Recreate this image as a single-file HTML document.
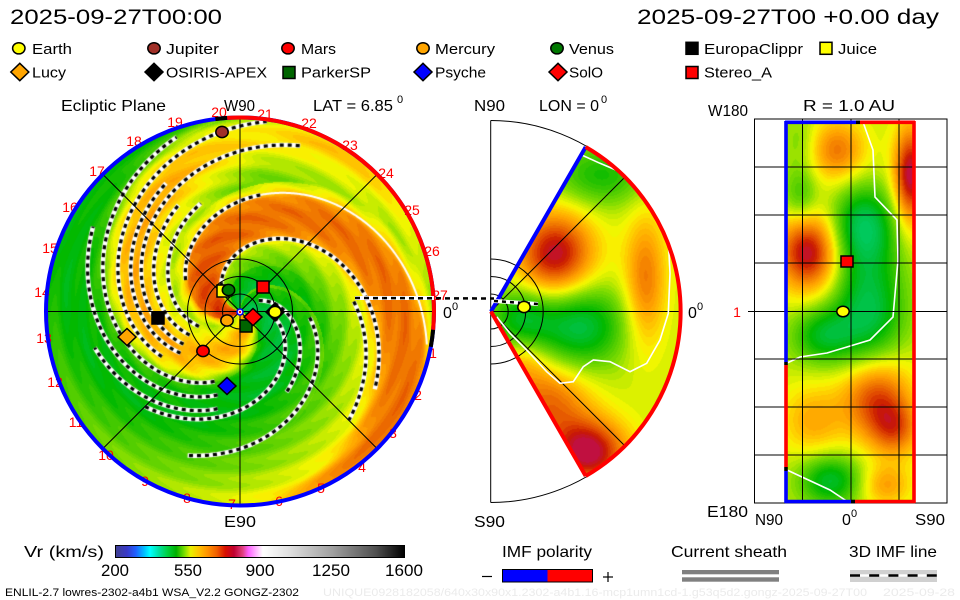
<!DOCTYPE html>
<html><head><meta charset="utf-8">
<style>
html,body{margin:0;padding:0;background:#fff;}
#w{position:relative;width:960px;height:600px;overflow:hidden;background:#fff;}
canvas,svg{position:absolute;left:0;top:0;}
text{font-family:"Liberation Sans",sans-serif;}
</style></head><body><div id="w">
<canvas id="c" width="960" height="600"></canvas>
<svg width="960" height="600" viewBox="0 0 960 600" xmlns="http://www.w3.org/2000/svg">
<defs>
<linearGradient id="cb" x1="0" x2="1" y1="0" y2="0">
<stop offset="0" stop-color="#404090"/><stop offset="0.04" stop-color="#3838c8"/><stop offset="0.07" stop-color="#2060ff"/>
<stop offset="0.10" stop-color="#00c0ff"/><stop offset="0.12" stop-color="#00ffff"/><stop offset="0.15" stop-color="#00e0a0"/>
<stop offset="0.18" stop-color="#00d040"/><stop offset="0.21" stop-color="#00b000"/><stop offset="0.24" stop-color="#80e000"/>
<stop offset="0.26" stop-color="#e8f000"/><stop offset="0.29" stop-color="#ffc000"/><stop offset="0.32" stop-color="#ff9000"/>
<stop offset="0.35" stop-color="#f06000"/><stop offset="0.38" stop-color="#d81000"/><stop offset="0.41" stop-color="#c00030"/>
<stop offset="0.44" stop-color="#e04080"/><stop offset="0.46" stop-color="#ff60ff"/><stop offset="0.49" stop-color="#ffc0ff"/>
<stop offset="0.51" stop-color="#ffffff"/><stop offset="0.60" stop-color="#e0e0e0"/><stop offset="0.75" stop-color="#a0a0a0"/>
<stop offset="0.90" stop-color="#505050"/><stop offset="1" stop-color="#000000"/>
</linearGradient>
</defs>

<text x="10" y="24" font-size="21" textLength="212" lengthAdjust="spacingAndGlyphs">2025-09-27T00:00</text>
<text x="637" y="24" font-size="21" textLength="302" lengthAdjust="spacingAndGlyphs">2025-09-27T00 +0.00 day</text>

<g stroke="#000" stroke-width="1.5">
<ellipse cx="18.8" cy="48.3" rx="6.2" ry="5.6" fill="#ffff00"/>
<ellipse cx="154" cy="48.3" rx="6.2" ry="5.6" fill="#a03028"/>
<ellipse cx="288" cy="48.3" rx="6.2" ry="5.6" fill="#ff0000"/>
<ellipse cx="423" cy="48.3" rx="6.2" ry="5.6" fill="#ffa500"/>
<ellipse cx="557" cy="48.3" rx="6.2" ry="5.6" fill="#007800"/>
<rect x="686" y="42.3" width="12" height="12" fill="#000"/>
<rect x="820" y="42.3" width="12" height="12" fill="#ffff00"/>
<polygon points="10.8,72 19.8,63.3 28.8,72 19.8,80.7" fill="#ffa500"/>
<polygon points="145,72 154,63.3 163,72 154,80.7" fill="#000"/>
<rect x="283" y="66.5" width="12" height="12" fill="#006400"/>
<polygon points="414,72 423,63.3 432,72 423,80.7" fill="#0000ff"/>
<polygon points="549,72 558,63.3 567,72 558,80.7" fill="#ff0000"/>
<rect x="686" y="66.5" width="12" height="12" fill="#ff0000"/>
</g>
<g font-size="15">
<text x="32" y="54" textLength="40" lengthAdjust="spacingAndGlyphs">Earth</text>
<text x="166" y="54" textLength="53" lengthAdjust="spacingAndGlyphs">Jupiter</text>
<text x="301" y="54" textLength="35" lengthAdjust="spacingAndGlyphs">Mars</text>
<text x="435" y="54" textLength="60" lengthAdjust="spacingAndGlyphs">Mercury</text>
<text x="569" y="54" textLength="45" lengthAdjust="spacingAndGlyphs">Venus</text>
<text x="704" y="54" textLength="99" lengthAdjust="spacingAndGlyphs">EuropaClippr</text>
<text x="838" y="54" textLength="39" lengthAdjust="spacingAndGlyphs">Juice</text>
<text x="32" y="77.5" textLength="34" lengthAdjust="spacingAndGlyphs">Lucy</text>
<text x="166" y="77.5" textLength="101" lengthAdjust="spacingAndGlyphs">OSIRIS-APEX</text>
<text x="301" y="77.5" textLength="70" lengthAdjust="spacingAndGlyphs">ParkerSP</text>
<text x="435" y="77.5" textLength="51" lengthAdjust="spacingAndGlyphs">Psyche</text>
<text x="569" y="77.5" textLength="34" lengthAdjust="spacingAndGlyphs">SolO</text>
<text x="704" y="77.5" textLength="68" lengthAdjust="spacingAndGlyphs">Stereo_A</text>
</g>

<g font-size="16">
<text x="61" y="111" textLength="105" lengthAdjust="spacingAndGlyphs">Ecliptic Plane</text>
<text x="224" y="111" textLength="31" lengthAdjust="spacingAndGlyphs">W90</text>
<text x="313" y="111" textLength="80" lengthAdjust="spacingAndGlyphs">LAT = 6.85</text>
<text x="397" y="103" font-size="11">0</text>
<text x="474" y="111" textLength="31" lengthAdjust="spacingAndGlyphs">N90</text>
<text x="539" y="111" textLength="60" lengthAdjust="spacingAndGlyphs">LON = 0</text>
<text x="601" y="103" font-size="11">0</text>
<text x="708" y="116" textLength="40" lengthAdjust="spacingAndGlyphs">W180</text>
<text x="803" y="111" textLength="92" lengthAdjust="spacingAndGlyphs">R = 1.0 AU</text>
<text x="224" y="527" textLength="32" lengthAdjust="spacingAndGlyphs">E90</text>
<text x="474" y="527" textLength="31" lengthAdjust="spacingAndGlyphs">S90</text>
<text x="707" y="517" textLength="41" lengthAdjust="spacingAndGlyphs">E180</text>
<text x="755" y="525" textLength="28" lengthAdjust="spacingAndGlyphs">N90</text>
<text x="842" y="525">0</text><text x="851" y="517" font-size="11">0</text>
<text x="915" y="525" textLength="30" lengthAdjust="spacingAndGlyphs">S90</text>
<text x="443" y="318">0</text><text x="452" y="310" font-size="11">0</text>
<text x="688" y="318">0</text><text x="697" y="310" font-size="11">0</text>
</g>

<g font-size="14" fill="#ff0000" text-anchor="middle">
<text x="219" y="117">20</text><text x="175" y="127">19</text><text x="134" y="146">18</text>
<text x="97" y="176">17</text><text x="70" y="212">16</text><text x="50" y="253">15</text>
<text x="42" y="297">14</text><text x="44" y="343">13</text><text x="55" y="387">12</text>
<text x="76" y="427">11</text><text x="106" y="460">10</text><text x="145" y="486">9</text>
<text x="187" y="503">8</text><text x="232" y="509">7</text><text x="279" y="506">6</text>
<text x="321" y="493">5</text><text x="362" y="472">4</text><text x="393" y="438">3</text>
<text x="418" y="400">2</text><text x="433" y="358">1</text><text x="440" y="300">27</text>
<text x="432" y="256">26</text><text x="412" y="215">25</text><text x="386" y="178">24</text>
<text x="350" y="150">23</text><text x="309" y="128">22</text><text x="265" y="119">21</text>
<text x="737" y="317">1</text>
</g>

<g stroke="#000" stroke-width="1" fill="none">
<line x1="46" y1="311.5" x2="434" y2="311.5"/>
<line x1="240" y1="117" x2="240" y2="506"/>
<line x1="102.5" y1="174" x2="377.5" y2="449"/>
<line x1="377.5" y1="174" x2="102.5" y2="449"/>
<circle cx="240" cy="311.5" r="17.5"/>
<circle cx="240" cy="311.5" r="35"/>
<circle cx="240" cy="311.5" r="52.5"/>
</g>
<circle cx="240" cy="311.5" r="194" fill="none" stroke="#0000ff" stroke-width="4"/>
<path d="M227.1,117.9 A194,194 0 0 1 433.1,329.8" fill="none" stroke="#ff0000" stroke-width="4"/>
<path d="M215.4,119.1 A194,194 0 0 1 227.1,117.9" fill="none" stroke="#000" stroke-width="4"/>
<path d="M433.1,329.8 A194,194 0 0 1 430.8,346.8" fill="none" stroke="#000" stroke-width="4"/>

<line x1="355" y1="298" x2="434" y2="298" stroke="#fff" stroke-width="4"/>
<line x1="355" y1="298" x2="494" y2="298.5" stroke="#000" stroke-width="2.5" stroke-dasharray="5,4"/>

<g stroke="#000" stroke-width="1.5">
<ellipse cx="222" cy="132" rx="6.2" ry="5.6" fill="#a03028"/>
<rect x="217" y="285" width="12" height="12" fill="#ffff00"/>
<ellipse cx="228.5" cy="290" rx="6.2" ry="5.6" fill="#007800"/>
<rect x="257" y="281" width="12" height="12" fill="#ff0000"/>
<polygon points="266,312 275,303 284,312 275,321" fill="#000"/>
<ellipse cx="275" cy="312" rx="6.2" ry="5.6" fill="#ffff00"/>
<rect x="240" y="320" width="12" height="12" fill="#006400"/>
<polygon points="244,317 253,308.5 262,317 253,325.5" fill="#ff0000"/>
<ellipse cx="227" cy="320.5" rx="6.2" ry="5.6" fill="#ffa500"/>
<ellipse cx="203" cy="351" rx="6.2" ry="5.6" fill="#ff0000"/>
<polygon points="218,386 227,377.5 236,386 227,394.5" fill="#0000ff"/>
<polygon points="118,337 127,328.5 136,337 127,345.5" fill="#ffa500"/>
<rect x="152" y="312" width="12" height="12" fill="#000"/>
</g>
<circle cx="240" cy="312" r="3" fill="#fff" stroke="#0000ff" stroke-width="1.5"/>
<circle cx="240" cy="312" r="1.2" fill="#ff0000"/>

<g stroke="#000" stroke-width="1" fill="none">
<line x1="490.7" y1="120.5" x2="490.7" y2="502.5"/>
<path d="M490.7,120.5 A191,191 0 0 1 490.7,502.5"/>
<line x1="490.7" y1="311.5" x2="681" y2="311.5"/>
<line x1="490.7" y1="311.5" x2="625" y2="177"/>
<line x1="490.7" y1="311.5" x2="625" y2="446"/>
<path d="M490.7,294 A17.5,17.5 0 0 1 490.7,329"/>
<path d="M490.7,276.5 A35,35 0 0 1 490.7,346.5"/>
<path d="M490.7,259 A52.5,52.5 0 0 1 490.7,364"/>
</g>
<polyline points="581.7,155 600,163.3 620,171.7 640,186.7 660,210 668.3,240 670,273.3 668.3,313.3 660,340 646.7,363.3 630,371.7 610,361.7 593.3,360 583.3,366.7 573.3,381.7 560,383.3 546.7,371.7 526.7,350 510,333.3 496.7,316.7" fill="none" stroke="#fff" stroke-width="1.6"/>
<line x1="491" y1="311.5" x2="585.7" y2="147" stroke="#0000ff" stroke-width="4"/>
<path d="M585.7,147 A190,190 0 0 1 585.7,476" fill="none" stroke="#ff0000" stroke-width="4"/>
<line x1="491" y1="311.5" x2="585.7" y2="476" stroke="#ff0000" stroke-width="4"/>
<line x1="494" y1="301" x2="538" y2="304" stroke="#fff" stroke-width="4"/>
<line x1="494" y1="301" x2="538" y2="304" stroke="#000" stroke-width="2.5" stroke-dasharray="4,4"/>
<ellipse cx="524" cy="307" rx="6.2" ry="5.6" fill="#ffff00" stroke="#000" stroke-width="1.5"/>

<polyline points="863,122 873,150 875,197 897,220 898,260 893,317 870,340 827,353 800,357 787,363" fill="none" stroke="#fff" stroke-width="1.6"/>
<polyline points="787,470 802,477 830,490 848,502" fill="none" stroke="#fff" stroke-width="1.6"/>
<g stroke="#000" stroke-width="1" fill="none">
<rect x="754.5" y="119" width="192.5" height="384"/>
<line x1="802.5" y1="119" x2="802.5" y2="503"/>
<line x1="851" y1="119" x2="851" y2="503"/>
<line x1="899" y1="119" x2="899" y2="503"/>
<line x1="754.5" y1="167" x2="947" y2="167"/>
<line x1="754.5" y1="215" x2="947" y2="215"/>
<line x1="754.5" y1="263" x2="947" y2="263"/>
<line x1="748" y1="311.5" x2="947" y2="311.5"/>
<line x1="754.5" y1="359" x2="947" y2="359"/>
<line x1="754.5" y1="407" x2="947" y2="407"/>
<line x1="754.5" y1="455" x2="947" y2="455"/>
</g>
<g stroke-width="3.6">
<line x1="786" y1="121" x2="786" y2="362" stroke="#0000ff"/>
<line x1="786" y1="362" x2="786" y2="365" stroke="#000"/>
<line x1="786" y1="365" x2="786" y2="467" stroke="#ff0000"/>
<line x1="786" y1="467" x2="786" y2="471" stroke="#000"/>
<line x1="786" y1="471" x2="786" y2="503" stroke="#0000ff"/>
<line x1="914" y1="121" x2="914" y2="503" stroke="#ff0000"/>
<line x1="785" y1="122.3" x2="856" y2="122.3" stroke="#0000ff"/>
<line x1="856" y1="122.3" x2="860" y2="122.3" stroke="#000"/>
<line x1="860" y1="122.3" x2="915" y2="122.3" stroke="#ff0000"/>
<line x1="785" y1="501.5" x2="851" y2="501.5" stroke="#0000ff"/>
<line x1="851" y1="501.5" x2="855" y2="501.5" stroke="#000"/>
<line x1="855" y1="501.5" x2="915" y2="501.5" stroke="#ff0000"/>
</g>
<rect x="841" y="256" width="12" height="11" fill="#ff0000" stroke="#000" stroke-width="1.5"/>
<ellipse cx="843" cy="311.5" rx="6.2" ry="5.3" fill="#ffff00" stroke="#000" stroke-width="1.5"/>

<text x="24" y="557" font-size="16" textLength="80" lengthAdjust="spacingAndGlyphs">Vr (km/s)</text>
<rect x="115.5" y="545.5" width="289" height="12" fill="url(#cb)" stroke="#000" stroke-width="1"/>
<g font-size="17" text-anchor="middle">
<text x="115" y="576" textLength="28" lengthAdjust="spacingAndGlyphs">200</text>
<text x="188" y="576" textLength="28" lengthAdjust="spacingAndGlyphs">550</text>
<text x="260" y="576" textLength="29" lengthAdjust="spacingAndGlyphs">900</text>
<text x="331" y="576" textLength="38" lengthAdjust="spacingAndGlyphs">1250</text>
<text x="404" y="576" textLength="38" lengthAdjust="spacingAndGlyphs">1600</text>
</g>

<text x="502" y="557" font-size="16" textLength="90" lengthAdjust="spacingAndGlyphs">IMF polarity</text>
<rect x="502.5" y="569.5" width="45" height="12.5" fill="#0000ff"/>
<rect x="547.5" y="569.5" width="45" height="12.5" fill="#ff0000"/>
<rect x="502.5" y="569.5" width="90" height="12.5" fill="none" stroke="#000" stroke-width="1"/>
<line x1="482" y1="576.5" x2="492" y2="576.5" stroke="#000" stroke-width="1.2"/>
<line x1="603" y1="577" x2="613" y2="577" stroke="#000" stroke-width="1.2"/>
<line x1="608" y1="572" x2="608" y2="582" stroke="#000" stroke-width="1.2"/>

<text x="671" y="557" font-size="16" textLength="116" lengthAdjust="spacingAndGlyphs">Current sheath</text>
<rect x="682" y="570" width="97" height="4.3" fill="#808080"/>
<rect x="682" y="577.3" width="97" height="4.4" fill="#808080"/>

<text x="849" y="557" font-size="16" textLength="88" lengthAdjust="spacingAndGlyphs">3D IMF line</text>
<rect x="850" y="570" width="87" height="12" fill="#d0d0d0"/>
<rect x="850" y="574.3" width="87" height="2.4" fill="#fff"/>
<line x1="850" y1="575.5" x2="937" y2="575.5" stroke="#000" stroke-width="2.4" stroke-dasharray="10,9.2"/>

<text x="5" y="596" font-size="11" textLength="294" lengthAdjust="spacingAndGlyphs">ENLIL-2.7 lowres-2302-a4b1 WSA_V2.2 GONGZ-2302</text>
<text x="323" y="596" font-size="11" fill="#ebebeb" textLength="544" lengthAdjust="spacingAndGlyphs">UNIQUE0928182058/640x30x90x1.2302-a4b1.16-mcp1umn1cd-1.g53q5d2.gongz-2025-09-27T00</text>
<text x="883" y="596" font-size="11" fill="#ebebeb" textLength="72" lengthAdjust="spacingAndGlyphs">2025-09-28</text>
</svg>
</div>
<script>
(function(){
var c=document.getElementById('c'),g=c.getContext('2d');
var W=960,H=600;
var im=g.createImageData(W,H),d=im.data;
var S=[[0,0,208,112],[0.12,0,192,64],[0.22,0,184,0],[0.32,64,200,0],[0.42,128,220,0],[0.5,200,236,0],[0.56,248,248,0],[0.64,255,200,0],[0.72,255,160,0],[0.8,240,120,0],[0.88,224,72,0],[0.94,200,24,0],[1,192,16,64]];
function cm(t){t=Math.max(0,Math.min(1,t));t=Math.round(t*40)/40;
 for(var i=1;i<S.length;i++){if(t<=S[i][0]){var a=S[i-1],b=S[i],f=(t-a[0])/(b[0]-a[0]);return [a[1]+(b[1]-a[1])*f,a[2]+(b[2]-a[2])*f,a[3]+(b[3]-a[3])*f];}}
 return [192,16,64];}
function put(x,y,t){var k=(y*W+x)*4,v=cm(t);d[k]=v[0];d[k+1]=v[1];d[k+2]=v[2];d[k+3]=255;}
var P=[[0,0.24],[0.6,0.2],[1.2,0.3],[1.8,0.4],[2.4,0.5],[2.75,0.58],[2.95,0.72],[3.2,0.8],[3.6,0.82],[3.9,0.76],[4.05,0.6],[4.3,0.47],[4.6,0.54],[4.9,0.62],[5.2,0.7],[5.5,0.67],[5.8,0.55],[6.05,0.32],[6.2832,0.24]];
function prof(p){for(var i=1;i<P.length;i++){if(p<=P[i][0]){var a=P[i-1],b=P[i];return a[1]+(b[1]-a[1])*(p-a[0])/(b[0]-a[0]);}}return 0.24;}
var CX=240,CY=311.5,K=0.022,TP=2*Math.PI;
var x,y;
for(y=114;y<510;y++)for(x=42;x<440;x++){
 var dx=x+0.5-CX,dy=CY-(y+0.5),r=Math.sqrt(dx*dx+dy*dy);
 if(r>194)continue;
 var th=Math.atan2(dy,dx);
 var p=(th+K*r)%TP;if(p<0)p+=TP;
 var t=prof(p);
 if(p>1.6&&p<2.9)t-=0.2*Math.max(0,(130-r)/130);
 if(p>2.9&&p<3.95)t+=0.1*Math.max(0,(100-r)/100);
 if(t<0.35)t-=0.12*Math.max(0,(110-r)/110);
 var thd=th*180/Math.PI;
 if(p>4.25&&p<5.9){var w=Math.max(0,1-Math.abs(thd-82)/35);t-=0.1*w;}
 t+=0.025*Math.sin(r*0.35);
 put(x,y,t);
}
function blobs(B,base,x,y){var t=base;for(var i=0;i<B.length;i++){var b=B[i],u=(x-b[0])/b[2],v=(y-b[1])/b[3];t+=b[4]*Math.exp(-0.5*(u*u+v*v));}return t;}
var MX=490.7,MY=311.5;
var MB=[[555,255,28,32,0.5],[588,452,28,24,0.52],[548,400,30,28,0.32],[520,360,18,18,0.15],[645,280,15,48,0.3],[578,325,32,30,-0.4],[600,175,35,22,-0.25],[520,318,22,22,-0.3]];
for(y=140;y<482;y++)for(x=490;x<684;x++){
 var ddx=x+0.5-MX,ddy=MY-(y+0.5),rr=Math.sqrt(ddx*ddx+ddy*ddy);
 if(rr>190||ddx<0)continue;
 if(Math.abs(Math.atan2(ddy,ddx))>Math.PI/3)continue;
 put(x,y,blobs(MB,0.5,x,y));
}
var RB=[[837,150,20,22,0.3],[910,175,12,35,0.52],[800,140,12,20,-0.1],[863,225,22,28,-0.4],[808,252,22,28,0.5],[800,195,12,20,-0.2],[868,310,25,45,-0.4],[822,335,22,20,-0.3],[875,395,25,30,0.42],[895,430,18,20,0.27],[812,420,22,25,0.2],[830,480,22,18,-0.35],[885,485,18,15,0.22]];
for(y=122;y<502;y++)for(x=786;x<914;x++)put(x,y,blobs(RB,0.5,x,y));
g.putImageData(im,0,0);
function sp(psi,t1,t2){g.beginPath();var first=true;var s=t1>t2?-1:1;
 for(var a=t1;s>0?a<=t2:a>=t2;a+=s*0.5){var th=a*Math.PI/180;var r=(psi-th)/K;if(r<3||r>192){continue;}
  var px=CX+r*Math.cos(th),py=CY-r*Math.sin(th);if(first){g.moveTo(px,py);first=false;}else g.lineTo(px,py);}}
function dsh(psi,t1,t2){sp(psi,t1,t2);g.setLineDash([]);g.strokeStyle='#fff';g.lineWidth=4.5;g.stroke();
 sp(psi,t1,t2);g.setLineDash([4,4]);g.strokeStyle='#000';g.lineWidth=3.2;g.stroke();g.setLineDash([]);}
function wht(psi,t1,t2){sp(psi,t1,t2);g.setLineDash([]);g.strokeStyle='#fff';g.lineWidth=2;g.stroke();}
dsh(2.9,135,-30);
dsh(4.0,150,80);wht(4.0,80,-10);
dsh(4.45,200,110);
dsh(4.8,205,120);
dsh(5.1,210,70);
dsh(5.35,215,120);
dsh(5.65,210,75);
dsh(6.0,250,110);
dsh(6.35,255,150);
dsh(6.68,257,194);
dsh(1.45,-5,-110);
dsh(0.6,-10,-135);
dsh(2.6,5,-45);
dsh(1.0,30,-60);
})();
</script>
</body></html>
